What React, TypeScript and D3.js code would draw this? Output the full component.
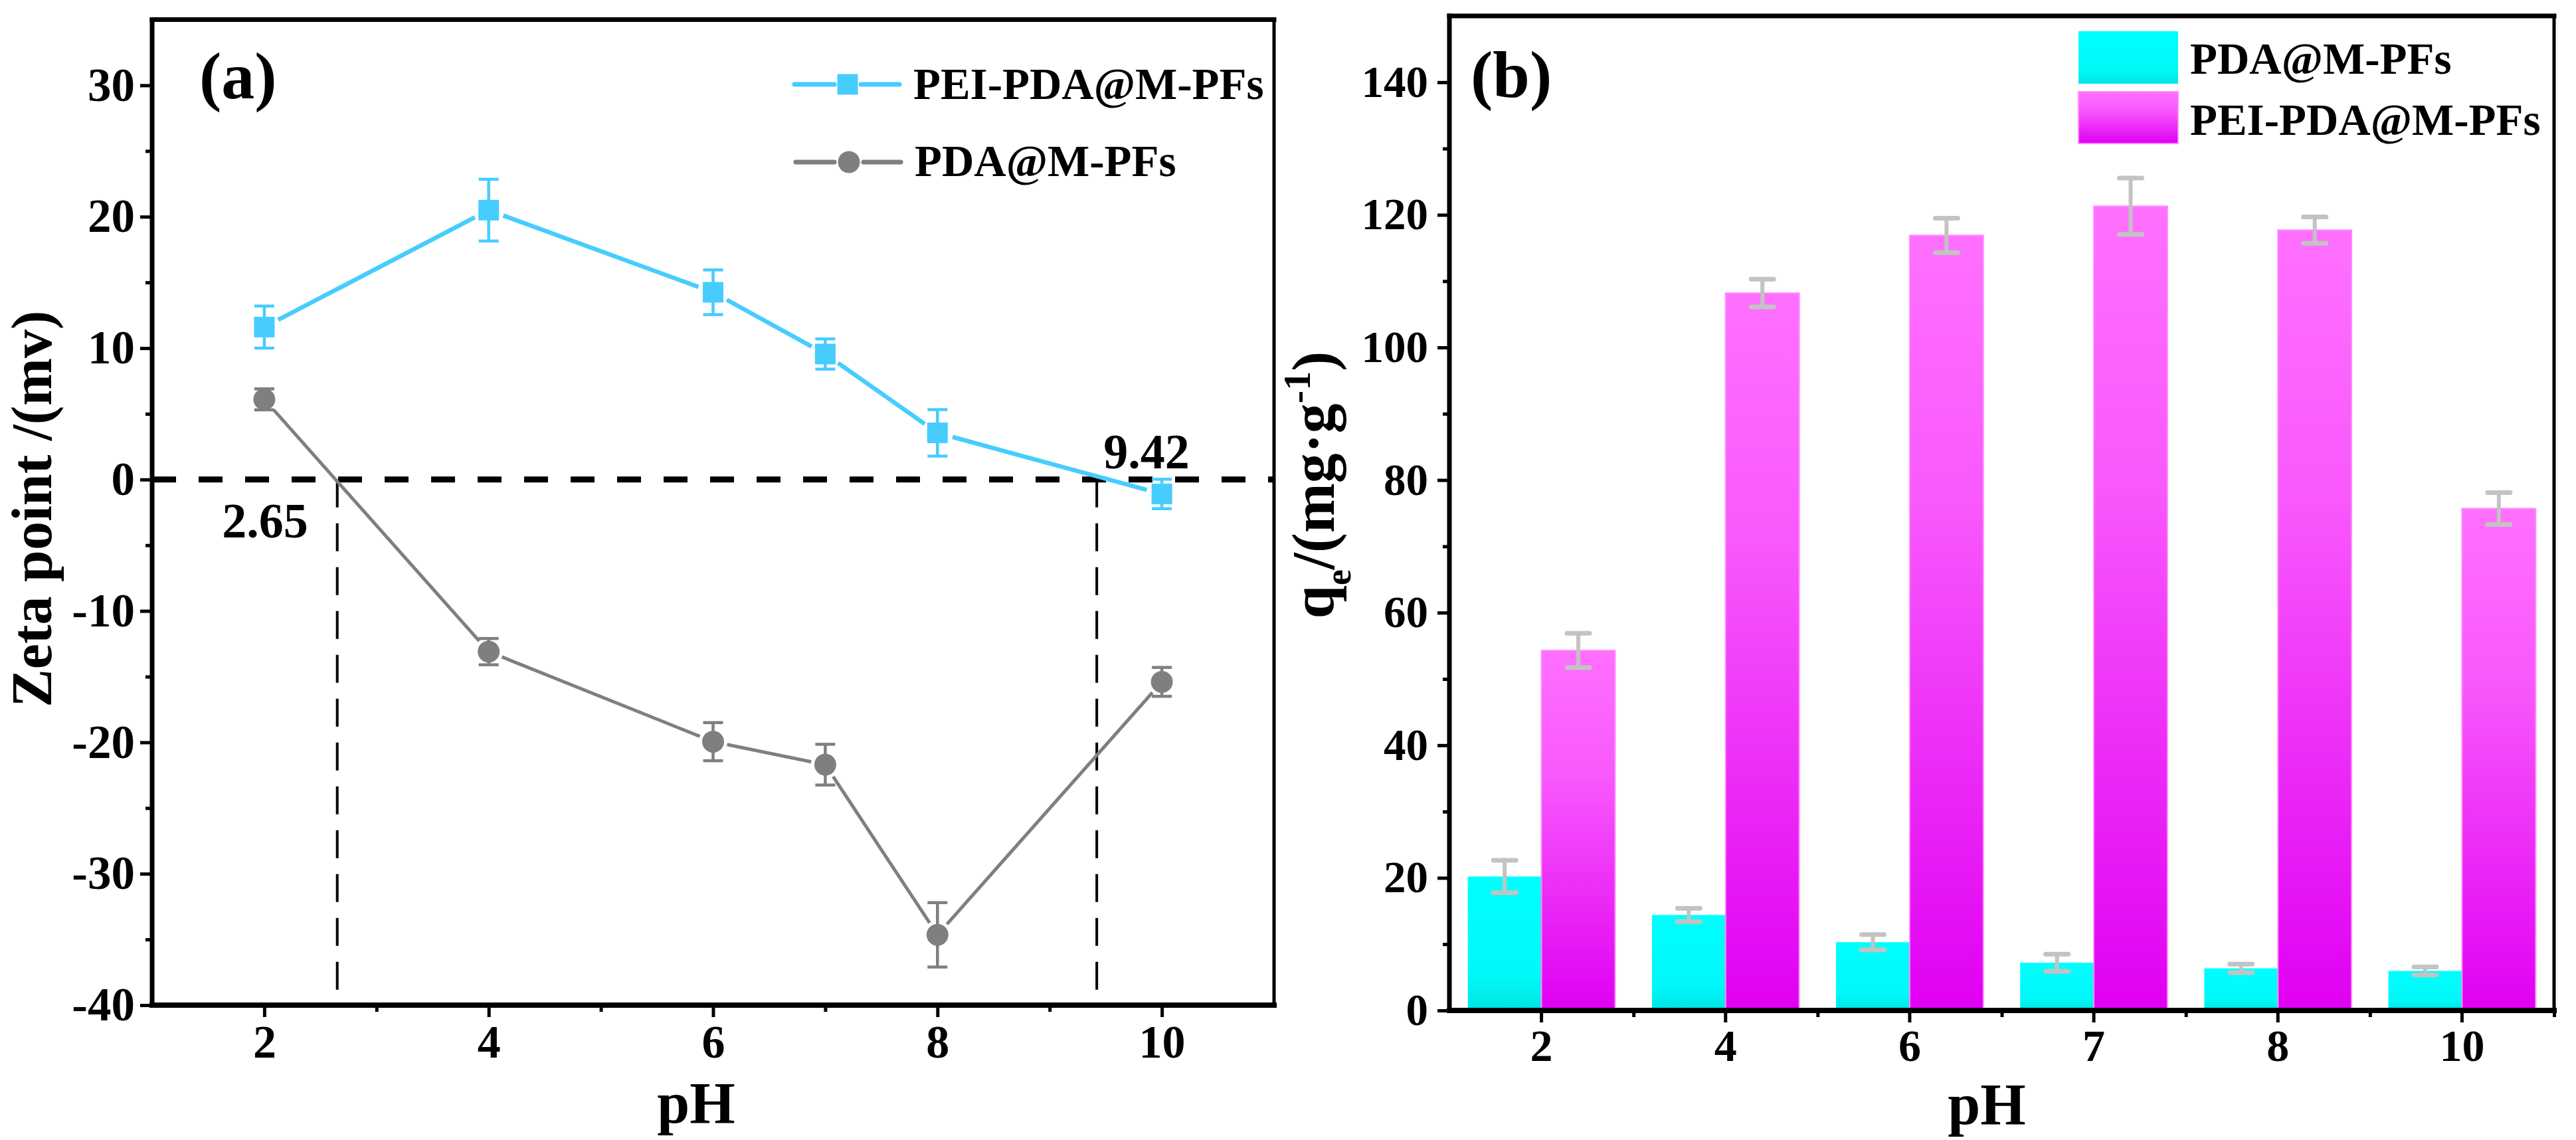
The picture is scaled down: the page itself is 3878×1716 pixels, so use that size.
import React, { useEffect, useRef } from 'react';
import * as d3 from 'd3';

// ---------- data: panel (a) zeta potential ----------
const phA = [2, 4, 6, 7, 8, 10];
const peiZeta = [11.6, 20.5, 14.25, 9.55, 3.55, -1.1];
const peiZetaErr = [1.6, 2.35, 1.7, 1.15, 1.77, 1.12];
const pdaZeta = [6.1, -13.1, -19.95, -21.7, -34.65, -15.4];
const pdaZetaErr = [0.8, 1.0, 1.45, 1.55, 2.45, 1.1];
const isoPoints = [2.65, 9.42];
const isoLabels = ['2.65', '9.42'];
const xTicksA = [2, 4, 6, 8, 10];
const xMinorA = [3, 5, 7, 9];
const yTicksA = [-40, -30, -20, -10, 0, 10, 20, 30];
const yMinorA = [-35, -25, -15, -5, 5, 15, 25];

// ---------- data: panel (b) adsorption capacity ----------
const phB = ['2', '4', '6', '7', '8', '10'];
const pdaQe = [20.2, 14.4, 10.3, 7.2, 6.35, 5.96];
const pdaQeErr = [2.45, 1.0, 1.15, 1.3, 0.65, 0.6];
const peiQe = [54.3, 108.2, 116.9, 121.3, 117.7, 75.7];
const peiQeErr = [2.6, 2.1, 2.6, 4.25, 2.0, 2.4];
const seriesB = ['PDA@M-PFs', 'PEI-PDA@M-PFs'];
const yTicksB = [0, 20, 40, 60, 80, 100, 120, 140];
const yMinorB = [10, 30, 50, 70, 90, 110, 130];

const FONT = "'Liberation Serif', 'Times New Roman', serif";
const BLUE = '#46CDFE';
const GRAY = '#7F7F7F';
const ERRB = '#C3C3C3';

const fmtNum = (d: number) => (d < 0 ? '-' + Math.abs(d) : String(d));

function Axis({ kind, scale, values, size, pad, fs, x = 0, y = 0, labels = true }: any) {
  const ref = useRef<SVGGElement>(null);
  useEffect(() => {
    const base = kind === 'left' ? d3.axisLeft(scale) : d3.axisBottom(scale);
    const gen = (base as any)
      .tickValues(values)
      .tickSize(size)
      .tickPadding(pad)
      .tickFormat(labels ? (d: any) => fmtNum(+d) : () => '');
    const g = d3.select(ref.current as SVGGElement);
    g.call(gen);
    g.select('.domain').remove();
    if (!labels) g.selectAll('.tick text').remove();
    g.attr('font-family', FONT).attr('font-size', fs).attr('font-weight', 'bold');
    g.selectAll('.tick line').attr('stroke', '#000').attr('stroke-width', 5);
    g.selectAll('.tick text').attr('fill', '#000');
  }, []);
  return <g ref={ref} transform={`translate(${x},${y})`} />;
}

function BandAxis({ scale, size, pad, fs, y }: any) {
  const ref = useRef<SVGGElement>(null);
  useEffect(() => {
    const g = d3.select(ref.current as SVGGElement);
    g.call(d3.axisBottom(scale).tickSize(size).tickPadding(pad) as any);
    g.select('.domain').remove();
    g.attr('font-family', FONT).attr('font-size', fs).attr('font-weight', 'bold');
    g.selectAll('.tick line').attr('stroke', '#000').attr('stroke-width', 5);
    g.selectAll('.tick text').attr('fill', '#000');
  }, []);
  return <g ref={ref} transform={`translate(0,${y})`} />;
}

function gapSegments(pts: [number, number][], shrink: number) {
  const out: number[][] = [];
  for (let i = 0; i < pts.length - 1; i++) {
    const [x1, y1] = pts[i];
    const [x2, y2] = pts[i + 1];
    const L = Math.hypot(x2 - x1, y2 - y1);
    const ux = (x2 - x1) / L, uy = (y2 - y1) / L;
    out.push([x1 + ux * shrink, y1 + uy * shrink, x2 - ux * shrink, y2 - uy * shrink]);
  }
  return out;
}

export default function App() {
  const W = 3878, H = 1716;

  // panel (a) scales
  const xA = d3.scaleLinear().domain([1, 11]).range([229, 1918]);
  const yA = d3.scaleLinear().domain([-40, 35]).range([1513, 29.5]);
  // panel (b) scales
  const xB = d3.scaleBand<string>().domain(phB).range([2182, 3845]).padding(0);
  const xBminor = d3.scaleLinear().domain([0, phB.length]).range([2182, 3845]);
  const yB = d3.scaleLinear().domain([0, 150]).range([1521, 24]);
  const bw = xB.bandwidth();
  const xSub = d3.scaleBand<string>().domain(seriesB).range([bw * 0.1, bw * 0.9]).padding(0);

  const peiPts = phA.map((p, i) => [xA(p), yA(peiZeta[i])] as [number, number]);
  const pdaPts = phA.map((p, i) => [xA(p), yA(pdaZeta[i])] as [number, number]);
  const sq = 31, rc = 16.5, cap = 30;

  const axA = { l: xA(1), r: xA(11), t: yA(35), b: yA(-40) };
  const axB = { l: 2182, r: 3845, t: yB(150), b: yB(0) };

  const txt = { fontFamily: FONT, fontWeight: 'bold' as const, fill: '#000' };

  return (
    <svg width={W} height={H} style={{ position: 'absolute', left: 0, top: 0, background: '#fff' }}>
      <defs>
        <linearGradient id="gCyan" x1="0" y1="0" x2="0" y2="1">
          <stop offset="0" stopColor="#00FFFF" />
          <stop offset="0.75" stopColor="#00F8F8" />
          <stop offset="1" stopColor="#00E4E4" />
        </linearGradient>
        <linearGradient id="gMag" x1="0" y1="0" x2="0" y2="1">
          <stop offset="0" stopColor="#FF70FF" />
          <stop offset="0.35" stopColor="#F858FC" />
          <stop offset="1" stopColor="#E000F2" />
        </linearGradient>
      </defs>
      <rect x={0} y={0} width={W} height={H} fill="#fff" />

      {/* ================= panel (a) ================= */}
      <line x1={axA.l} x2={axA.r} y1={yA(0)} y2={yA(0)} stroke="#000" strokeWidth={9} strokeDasharray="36 34" />
      {isoPoints.map((v, i) => (
        <line key={'iso' + i} x1={xA(v)} x2={xA(v)} y1={yA(0)} y2={axA.b} stroke="#000" strokeWidth={4} strokeDasharray="42 24" />
      ))}
      <text x={xA(isoPoints[0]) - 44} y={809} textAnchor="end" fontSize={74} {...txt}>{isoLabels[0]}</text>
      <text x={xA(isoPoints[1]) + 10} y={705} textAnchor="start" fontSize={74} {...txt}>{isoLabels[1]}</text>

      {gapSegments(pdaPts, rc + 5).map((s, i) => (
        <line key={'gs' + i} x1={s[0]} y1={s[1]} x2={s[2]} y2={s[3]} stroke={GRAY} strokeWidth={5} />
      ))}
      {gapSegments(peiPts, sq / 2 + 8).map((s, i) => (
        <line key={'bs' + i} x1={s[0]} y1={s[1]} x2={s[2]} y2={s[3]} stroke={BLUE} strokeWidth={6.5} />
      ))}
      {phA.map((p, i) => {
        const x = xA(p);
        const t = yA(pdaZeta[i] + pdaZetaErr[i]);
        const b = yA(pdaZeta[i] - pdaZetaErr[i]);
        return (
          <g key={'ge' + i} stroke={GRAY} strokeWidth={4.5}>
            <line x1={x} x2={x} y1={t} y2={b} />
            <line x1={x - cap / 2} x2={x + cap / 2} y1={t} y2={t} />
            <line x1={x - cap / 2} x2={x + cap / 2} y1={b} y2={b} />
          </g>
        );
      })}
      {phA.map((p, i) => {
        const x = xA(p);
        const t = yA(peiZeta[i] + peiZetaErr[i]);
        const b = yA(peiZeta[i] - peiZetaErr[i]);
        return (
          <g key={'be' + i} stroke={BLUE} strokeWidth={4.5}>
            <line x1={x} x2={x} y1={t} y2={b} />
            <line x1={x - cap / 2} x2={x + cap / 2} y1={t} y2={t} />
            <line x1={x - cap / 2} x2={x + cap / 2} y1={b} y2={b} />
          </g>
        );
      })}
      {pdaPts.map((pt, i) => (
        <circle key={'gm' + i} cx={pt[0]} cy={pt[1]} r={rc} fill={GRAY} />
      ))}
      {peiPts.map((pt, i) => (
        <rect key={'bm' + i} x={pt[0] - sq / 2} y={pt[1] - sq / 2} width={sq} height={sq} fill={BLUE} />
      ))}

      {/* legend (a) */}
      <g>
        <line x1={1196} x2={1256} y1={127} y2={127} stroke={BLUE} strokeWidth={7} strokeLinecap="round" />
        <line x1={1296} x2={1354} y1={127} y2={127} stroke={BLUE} strokeWidth={7} strokeLinecap="round" />
        <rect x={1276 - sq / 2} y={127 - sq / 2} width={sq} height={sq} fill={BLUE} />
        <text x={1375} y={149} fontSize={67} {...txt}>{seriesB[1]}</text>
        <line x1={1198} x2={1256} y1={244} y2={244} stroke={GRAY} strokeWidth={7} strokeLinecap="round" />
        <line x1={1300} x2={1356} y1={244} y2={244} stroke={GRAY} strokeWidth={7} strokeLinecap="round" />
        <circle cx={1278} cy={244} r={rc} fill={GRAY} />
        <text x={1377} y={265} fontSize={67} {...txt}>{seriesB[0]}</text>
      </g>

      {/* axes (a) */}
      <Axis kind="left" scale={yA} values={yTicksA} size={18} pad={8} fs={71} x={axA.l} />
      <Axis kind="left" scale={yA} values={yMinorA} size={10} pad={8} fs={71} x={axA.l} labels={false} />
      <Axis kind="bottom" scale={xA} values={xTicksA} size={18} pad={11} fs={70} y={axA.b} />
      <Axis kind="bottom" scale={xA} values={xMinorA} size={10} pad={11} fs={70} y={axA.b} labels={false} />
      <g stroke="#000" strokeLinecap="square">
        <line x1={axA.l} x2={axA.r} y1={axA.t} y2={axA.t} strokeWidth={7} />
        <line x1={axA.r} x2={axA.r} y1={axA.t} y2={axA.b} strokeWidth={5} />
        <line x1={axA.l} x2={axA.l} y1={axA.t} y2={axA.b} strokeWidth={7} />
        <line x1={axA.l} x2={axA.r} y1={axA.b} y2={axA.b} strokeWidth={8} />
      </g>
      <text x={300} y={148} fontSize={100} {...txt}>(a)</text>
      <text transform={`translate(77,766) rotate(-90)`} textAnchor="middle" fontSize={86} {...txt}>Zeta point /(mv)</text>
      <text x={1048} y={1690} textAnchor="middle" fontSize={88} {...txt}>pH</text>

      {/* ================= panel (b) ================= */}
      {phB.map((p, i) => {
        const x0 = (xB(p) as number) + (xSub(seriesB[0]) as number);
        const x1 = (xB(p) as number) + (xSub(seriesB[1]) as number);
        const sw = xSub.bandwidth();
        return (
          <g key={'bar' + i}>
            <rect x={x0} y={yB(pdaQe[i])} width={sw} height={yB(0) - yB(pdaQe[i])} fill="url(#gCyan)" />
            <rect x={x1} y={yB(peiQe[i])} width={sw} height={yB(0) - yB(peiQe[i])} fill="url(#gMag)" stroke="#FF8CFF" strokeWidth={2} />
          </g>
        );
      })}
      {phB.map((p, i) => {
        const sw = xSub.bandwidth();
        const cx0 = (xB(p) as number) + (xSub(seriesB[0]) as number) + sw / 2;
        const cx1 = (xB(p) as number) + (xSub(seriesB[1]) as number) + sw / 2;
        const c = 34;
        const eb = (cx: number, v: number, e: number, k: string) => (
          <g key={k} stroke={ERRB} strokeLinecap="round">
            <line x1={cx} x2={cx} y1={yB(v + e)} y2={yB(v - e)} strokeWidth={6} />
            <line x1={cx - c / 2} x2={cx + c / 2} y1={yB(v + e)} y2={yB(v + e)} strokeWidth={7} />
            <line x1={cx - c / 2} x2={cx + c / 2} y1={yB(v - e)} y2={yB(v - e)} strokeWidth={7} />
          </g>
        );
        return (
          <g key={'eb' + i}>
            {eb(cx0, pdaQe[i], pdaQeErr[i], 'a')}
            {eb(cx1, peiQe[i], peiQeErr[i], 'b')}
          </g>
        );
      })}

      {/* legend (b) */}
      <rect x={3129} y={47} width={150} height={79} fill="url(#gCyan)" />
      <text x={3297} y={111} fontSize={67} {...txt}>{seriesB[0]}</text>
      <rect x={3129} y={138} width={150} height={78} fill="url(#gMag)" stroke="#FF8CFF" strokeWidth={2} />
      <text x={3297} y={203} fontSize={67} {...txt}>{seriesB[1]}</text>

      {/* axes (b) */}
      <Axis kind="left" scale={yB} values={yTicksB} size={18} pad={14} fs={67} x={axB.l} />
      <Axis kind="left" scale={yB} values={yMinorB} size={10} pad={14} fs={67} x={axB.l} labels={false} />
      <BandAxis scale={xB} size={18} pad={10} fs={68} y={axB.b} />
      <Axis kind="bottom" scale={xBminor} values={[1, 2, 3, 4, 5, 6]} size={10} pad={12} fs={68} y={axB.b} labels={false} />
      <g stroke="#000" strokeLinecap="square">
        <line x1={axB.l} x2={axB.r} y1={axB.t} y2={axB.t} strokeWidth={7} />
        <line x1={axB.r} x2={axB.r} y1={axB.t} y2={axB.b} strokeWidth={5} />
        <line x1={axB.l} x2={axB.l} y1={axB.t} y2={axB.b} strokeWidth={7} />
        <line x1={axB.l} x2={axB.r} y1={axB.b} y2={axB.b} strokeWidth={8} />
      </g>
      <text x={2214} y={146} fontSize={100} {...txt}>(b)</text>
      <text transform={`translate(2008,730) rotate(-90)`} textAnchor="middle" fontSize={90} {...txt}>
        q<tspan fontSize={54} dy={25}>e</tspan>
        <tspan dy={-25}>/(mg·g</tspan>
        <tspan fontSize={58} dy={-36}>-1</tspan>
        <tspan dy={36}>)</tspan>
      </text>
      <text x={2991} y={1692} textAnchor="middle" fontSize={88} {...txt}>pH</text>
    </svg>
  );
}
